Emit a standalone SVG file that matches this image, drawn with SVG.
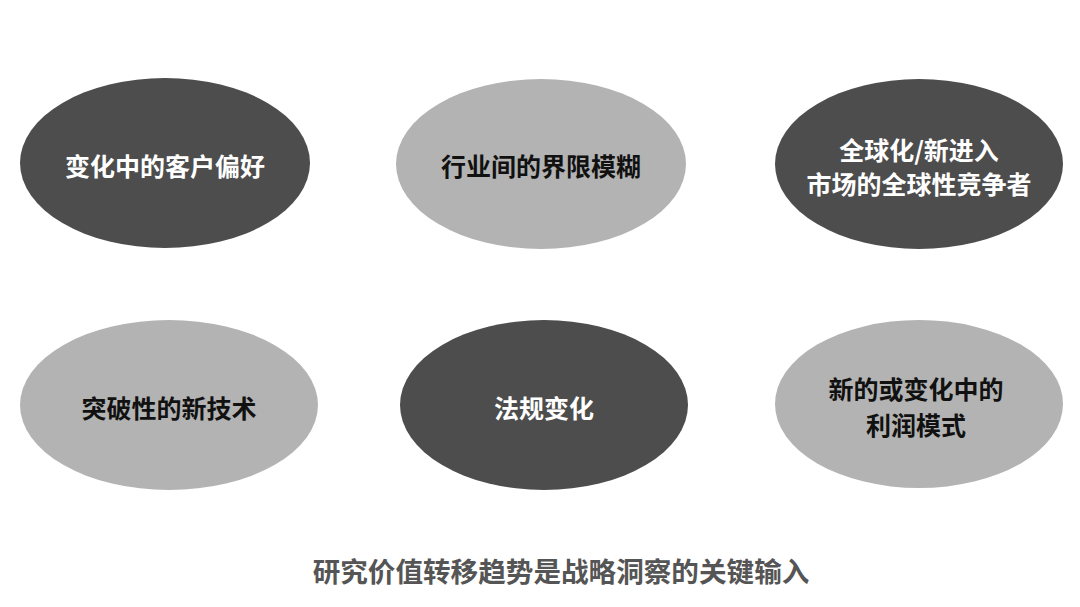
<svg xmlns="http://www.w3.org/2000/svg" width="1080" height="607" viewBox="0 0 1080 607">
<style>
.dark{fill:#4d4d4d}
.light{fill:#b3b3b3}
text{font-family:"Noto Sans CJK SC","Noto Sans",sans-serif;font-weight:bold;font-size:25px;text-anchor:middle;dominant-baseline:central}
.wt{fill:#ffffff}
.bt{fill:#111111}
.title{fill:#555555;font-size:27.6px}
</style>
<rect width="1080" height="607" fill="#ffffff"/>
<g id="node1"><ellipse class="dark" cx="165" cy="163" rx="145" ry="85"/><text class="wt" x="165" y="165">变化中的客户偏好</text></g>
<g id="node2"><ellipse class="light" cx="541" cy="164" rx="145" ry="85"/><text class="bt" x="541" y="165">行业间的界限模糊</text></g>
<g id="node3"><ellipse class="dark" cx="919" cy="164" rx="144" ry="85"/><text class="wt" x="919" y="149">全球化/新进入</text><text class="wt" x="919" y="183">市场的全球性竞争者</text></g>
<g id="node4"><ellipse class="light" cx="169" cy="405" rx="149" ry="85"/><text class="bt" x="169" y="407">突破性的新技术</text></g>
<g id="node5"><ellipse class="dark" cx="544" cy="405" rx="144" ry="85"/><text class="wt" x="544" y="407">法规变化</text></g>
<g id="node6"><ellipse class="light" cx="919" cy="404" rx="144" ry="84"/><text class="bt" x="916" y="388">新的或变化中的</text><text class="bt" x="916" y="424">利润模式</text></g>
<g id="connectors"></g>
<text class="title" x="561" y="570">研究价值转移趋势是战略洞察的关键输入</text>
</svg>
